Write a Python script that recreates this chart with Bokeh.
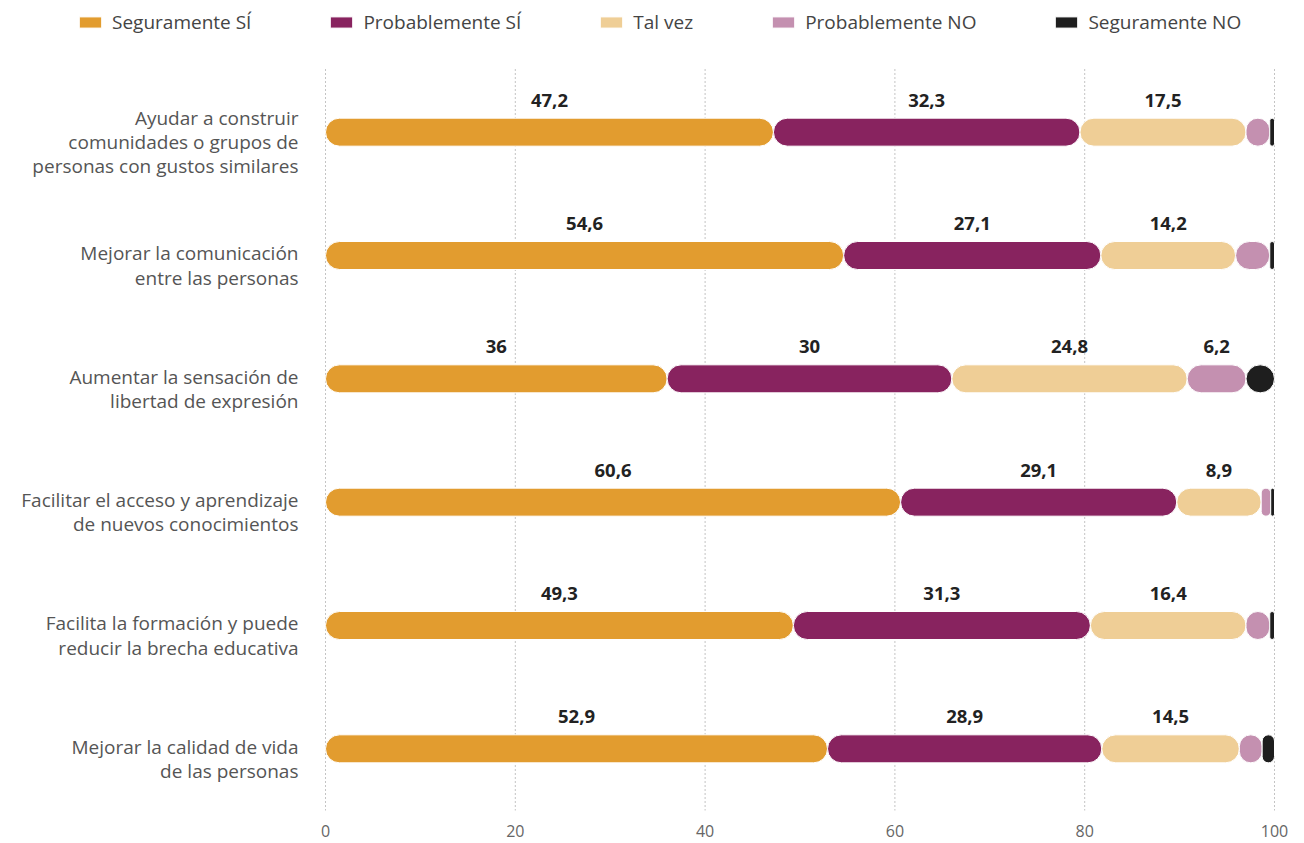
from bokeh.plotting import figure
from bokeh.models import ColumnDataSource, Range1d, Legend, LegendItem, FixedTicker
from bokeh.core.properties import value
from bokeh.embed import file_html
from bokeh.resources import INLINE

categories = [
    "Ayudar a construir\ncomunidades o grupos de\npersonas con gustos similares",
    "Mejorar la comunicación\nentre las personas",
    "Aumentar la sensación de\nlibertad de expresión",
    "Facilitar el acceso y aprendizaje\nde nuevos conocimientos",
    "Facilita la formación y puede\nreducir la brecha educativa",
    "Mejorar la calidad de vida\nde las personas",
]
series_names = ["Seguramente SÍ", "Probablemente SÍ", "Tal vez", "Probablemente NO", "Seguramente NO"]
seguramente_si = [47.2, 54.6, 36.0, 60.6, 49.3, 52.9]
probablemente_si = [32.3, 27.1, 30.0, 29.1, 31.3, 28.9]
tal_vez = [17.5, 14.2, 24.8, 8.9, 16.4, 14.5]
probablemente_no = [2.5, 3.6, 6.2, 1.0, 2.5, 2.4]
seguramente_no = [0.5, 0.5, 3.0, 0.4, 0.5, 1.3]
x_ticks = [0, 20, 40, 60, 80, 100]
colors = ["#E29C2F", "#88235F", "#EFCE96", "#C490B0", "#1E1E1E"]
FONT = "Open Sans"

# ---- layout geometry (pixels) ----
W, H = 1288, 840
BOTTOM = 30             # room for x tick labels
PLOT_L, PLOT_R = 325, 1274
PLOT_T = 70
frame_h = H - BOTTOM
band = (frame_h - PLOT_T) / len(categories)
ppu = (PLOT_R - PLOT_L) / 100.0
x_range = Range1d(-PLOT_L / ppu, 100 + (W - PLOT_R) / ppu)
y_range = Range1d(0, frame_h / band)
n = len(categories)

series = [seguramente_si, probablemente_si, tal_vez, probablemente_no, seguramente_no]
keys = ["s0", "s1", "s2", "s3", "s4"]
ys = [n - i - 0.5 for i in range(n)]
data = {"cat": categories, "y": ys}
for k, s in zip(keys, series):
    data[k] = s
src = ColumnDataSource(data)

p = figure(width=W, height=H, x_range=x_range, y_range=y_range,
           output_backend="svg", toolbar_location=None, y_axis_location=None,
           min_border_left=0, min_border_right=0, min_border_top=0, min_border_bottom=BOTTOM)

# dotted vertical grid lines at the ticks, limited to the plot area
p.segment(x0=x_ticks, x1=x_ticks, y0=[0] * len(x_ticks), y1=[n + 2 / band] * len(x_ticks),
          line_color="#888888", line_width=1, line_dash="1 3")

renderers = p.hbar_stack(keys, y="y", height=28 / band, color=colors, source=src,
                         line_color="white", line_width=1, border_radius=14)

# data labels
lx, ly, lt = [], [], []
for i in range(n):
    start = 0.0
    for s in series:
        v = s[i]
        if v >= 5:
            lx.append(start + v / 2)
            ly.append(ys[i])
            txt = f"{v:.1f}".replace(".", ",")
            if txt.endswith(",0"):
                txt = txt[:-2]
            lt.append(txt)
        start += v
lsrc = ColumnDataSource(dict(x=lx, y=ly, t=lt))
p.text(x="x", y="y", text="t", source=lsrc, y_offset=-32, text_align="center",
       text_baseline="middle", text_font=value(FONT), text_font_size="18.5px",
       text_font_style="bold", text_color="#222222")

# category labels
p.text(x=[0] * n, y=ys, text=categories, x_offset=-27, y_offset=10,
       text_align="right", text_baseline="middle", text_font=value(FONT),
       text_font_size="19px", text_color="#555555", text_line_height=0.93)

p.xaxis.ticker = FixedTicker(ticks=x_ticks)
p.xaxis.axis_line_color = None
p.xaxis.major_tick_line_color = None
p.xaxis.minor_tick_line_color = None
p.xaxis.major_label_text_font = FONT
p.xaxis.major_label_text_font_size = "16px"
p.xaxis.major_label_text_color = "#666666"
p.xaxis.major_label_standoff = 8
p.grid.visible = False
p.outline_line_color = None

legend = Legend(items=[LegendItem(label=nm, renderers=[r]) for nm, r in zip(series_names, renderers)],
                orientation="horizontal", location=(70, frame_h - 41),
                border_line_alpha=0, background_fill_alpha=0,
                glyph_width=28, glyph_height=14, label_standoff=8, spacing=76,
                label_text_font=FONT, label_text_font_size="19px", label_text_color="#444444",
                padding=6, margin=0)
p.add_layout(legend)

open("out.html", "w").write(file_html(p, INLINE))
